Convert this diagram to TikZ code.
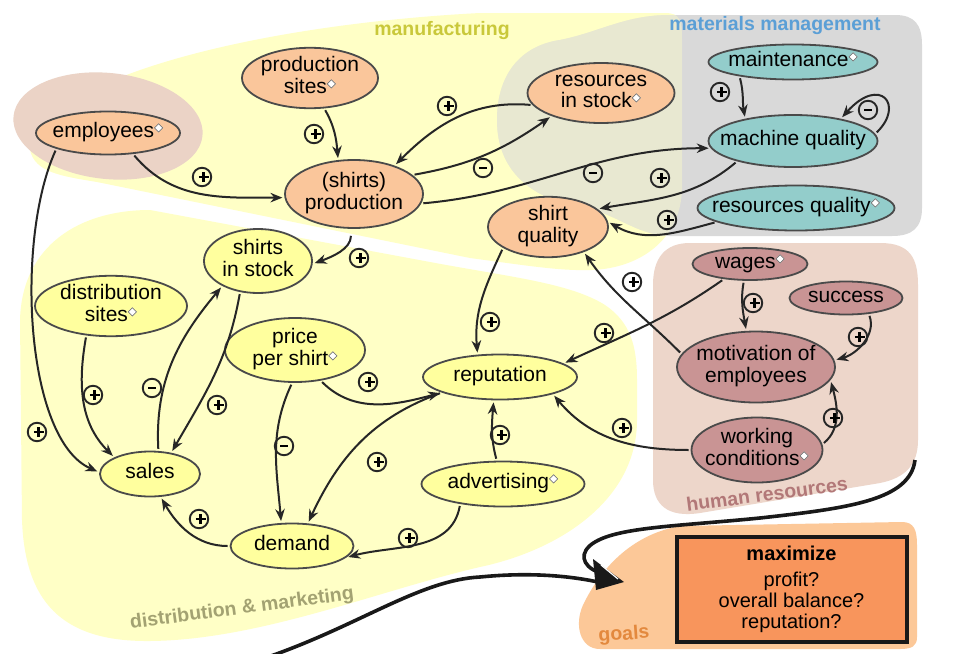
\documentclass[tikz,border=0pt]{standalone}
\usepackage{fontspec}
\setmainfont{Liberation Sans}
\newfontfamily\dejavu{DejaVu Sans}
\usetikzlibrary{shapes.geometric,arrows.meta}
\definecolor{yel}{HTML}{FFFFC6}
\definecolor{blobc}{HTML}{EBD3C6}
\definecolor{grayr}{HTML}{D9D9D9}
\definecolor{hrc}{HTML}{EDD6CA}
\definecolor{goalr}{HTML}{FCC898}
\definecolor{goalbox}{HTML}{F8955C}
\definecolor{nor}{HTML}{FAC69B}
\definecolor{nte}{HTML}{93CDCB}
\definecolor{npk}{HTML}{C99494}
\definecolor{nye}{HTML}{FFFF9E}
\definecolor{edgec}{HTML}{4A4A4A}
\definecolor{lmanu}{HTML}{C9C83A}
\definecolor{lmat}{HTML}{5B9FD6}
\definecolor{ldist}{HTML}{A3A272}
\definecolor{lhr}{HTML}{B27878}
\definecolor{lgoal}{HTML}{E3893E}
\newcommand\dm{\raisebox{0.55ex}{\fontsize{12}{12}\selectfont\dejavu\rlap{\color{white}◆}{\color{edgec}◇}}}
\newcommand\nt[1]{\makebox[0pt]{\begin{tabular}{@{}c@{}}#1\end{tabular}}}
\newcommand\mn{\rule[-1.4pt]{7.5pt}{2.8pt}}
\newcommand\pl{\rlap{\rule[-1.35pt]{10pt}{2.7pt}}\hspace{3.65pt}\rule[-5pt]{2.7pt}{10pt}\hspace{3.65pt}}
\tikzset{
 nd/.style={ellipse, draw=edgec, line width=1.8pt, inner sep=0pt, font=\fontsize{21}{20.5}\selectfont},
 orn/.style={nd, fill=nor}, ten/.style={nd, fill=nte}, pkn/.style={nd, fill=npk}, yen/.style={nd, fill=nye},
 arr/.style={-{Stealth[length=12pt,width=9.5pt]}, line width=2pt, draw=black!85, shorten >=2pt, shorten <=2pt},
 sgn/.style={circle, draw=black!85, line width=1.9pt, inner sep=0pt, minimum size=18.5pt},
 rlab/.style={font=\bfseries\fontsize{19.5}{20}\selectfont},
 big/.style={line width=3.6pt, draw=black!90}
}
\begin{document}
\begin{tikzpicture}[x=1pt,y=-1pt]
\useasboundingbox (0,0) rectangle (955,653);
\fill[white] (0,0) rectangle (955,653);
% regions
\def\manupath{(30,150) .. controls (40,80) and (250,25) .. (480,13) -- (665,13) .. controls (680,13) and (682,20) .. (682,40) -- (682,190) .. controls (680,240) and (640,268) .. (592,270) .. controls (560,271) and (530,266) .. (470,258) -- (97,182) .. controls (60,176) and (35,172) .. cycle}
\def\graypath{(560,40) .. controls (600,32) and (625,15) .. (670,15) -- (895,15) .. controls (915,15) and (922,25) .. (922,45) -- (922,208) .. controls (922,228) and (912,236) .. (892,236) -- (670,236) .. controls (635,235) and (615,212) .. (580,207) .. controls (530,198) and (497,170) .. (497,120) .. controls (497,70) and (525,45) .. (560,40) -- cycle}
\fill[yel] \manupath;
\fill[yel] (20,320) .. controls (22,245) and (80,210) .. (150,210) -- (430,262) .. controls (510,277) and (570,283) .. (605,305) .. controls (630,322) and (637,345) .. (637,380) -- (637,420) .. controls (637,500) and (560,550) .. (480,567) .. controls (380,590) and (260,640) .. (150,641) .. controls (60,642) and (25,600) .. (22,520) -- cycle;
\fill[blobc, rotate around={-6:(108,126)}] (108,126) ellipse [x radius=95pt, y radius=53pt];
\fill[grayr] \graypath;
\begin{scope}
\clip \manupath;
\fill[yel, opacity=0.4] \graypath;
\end{scope}
\fill[hrc] (690,243) -- (880,243) .. controls (910,243) and (918,258) .. (918,285) -- (918,440) .. controls (918,465) and (905,478) .. (880,483) -- (700,513) .. controls (668,518) and (653,505) .. (653,480) -- (653,285) .. controls (653,258) and (665,243) .. (690,243) -- cycle;
\fill[goalr] (600,649) .. controls (580,649) and (574,625) .. (583,605) .. controls (600,570) and (630,535) .. (680,526) -- (902,522) .. controls (914,522) and (917,530) .. (917,545) -- (917,637) .. controls (917,646) and (912,649) .. (900,649) -- cycle;
% region labels
\node[rlab, text=lmanu] (lmanu) at (442,31) {manufacturing};
\node[rlab, text=lmat] (lmat) at (775,26) {materials management};
\node[rlab, text=ldist, rotate=7.5] (ldist) at (242,609) {distribution \& marketing};
\node[rlab, text=lhr, rotate=7.5] (lhr) at (767,494) {human resources};
\node[rlab, text=lgoal, rotate=4] (lgoal) at (624,635) {goals};
% goals box
\node[draw=black!90, line width=4pt, fill=goalbox, minimum width=230pt, minimum height=105pt, inner sep=0pt, align=center, font=\fontsize{20}{21}\selectfont] (gbox) at (791.5,589) {\textbf{maximize}\\[5pt]profit?\\overall balance?\\reputation?};
% big curves
\coordinate (hrend) at (915,460);
\coordinate (dmend) at (268,657);
\coordinate (g1) at (598,572);
\coordinate (g2) at (598,582);
\draw[big] (hrend) .. controls (910,500) and (850,508) .. (760,518) .. controls (680,526) and (620,527) .. (595,542) .. controls (578,552) and (582,566) .. (g1);
\draw[big] (dmend) .. controls (360,625) and (420,580) .. (480,577) .. controls (530,572) and (570,576) .. (g2);
\fill[black!90] (593,559) -- (624,582) -- (596,590) -- cycle;
\draw[white, line width=1.2pt] (601,565) -- (618,579);
% nodes
\node[orn, minimum width=144pt, minimum height=43pt] (employees) at (108,133) {\nt{employees\dm}};
\node[orn, minimum width=136pt, minimum height=60pt] (psites) at (310,78) {\nt{production\\sites\dm}};
\node[orn, minimum width=138pt, minimum height=68pt] (production) at (354,194) {\nt{(shirts)\\production}};
\node[orn, minimum width=147pt, minimum height=60pt] (rstock) at (601,93) {\nt{resources\\in stock\dm}};
\node[ten, minimum width=169pt, minimum height=35pt] (maint) at (793,62) {\nt{maintenance\dm}};
\node[ten, minimum width=169pt, minimum height=52pt] (mqual) at (793,141) {\nt{machine quality}};
\node[ten, minimum width=197pt, minimum height=45pt] (rqual) at (796,208) {\nt{resources quality\dm}};
\node[orn, minimum width=120pt, minimum height=60pt] (squal) at (548,227) {\nt{shirt\\quality}};
\node[pkn, minimum width=115pt, minimum height=32pt] (wages) at (750,264) {\nt{wages\dm}};
\node[pkn, minimum width=113pt, minimum height=33pt] (success) at (846,298) {\nt{success}};
\node[pkn, minimum width=158pt, minimum height=71pt] (motiv) at (756,367) {\nt{motivation of\\employees}};
\node[pkn, minimum width=131pt, minimum height=65pt] (workc) at (757,450) {\nt{working\\conditions\dm}};
\node[yen, minimum width=154pt, minimum height=45pt] (rep) at (500,377) {\nt{reputation}};
\node[yen, minimum width=163pt, minimum height=45pt] (adv) at (503,484) {\nt{advertising\dm}};
\node[yen, minimum width=140pt, minimum height=64pt] (price) at (295,350) {\nt{price\\per shirt\dm}};
\node[yen, minimum width=108pt, minimum height=64pt] (sis) at (258,261) {\nt{shirts\\in stock}};
\node[yen, minimum width=152pt, minimum height=60pt] (dsites) at (111,306) {\nt{distribution\\sites\dm}};
\node[yen, minimum width=100pt, minimum height=45pt] (sales) at (150,474) {\nt{sales}};
\node[yen, minimum width=123pt, minimum height=45pt] (demand) at (292,546) {\nt{demand}};
% connectors
\draw[arr] (employees.-40) to[out=-50,in=180] (production.183);
\draw[arr] (psites.-65) to[out=-60,in=95] (production.115);
\draw[arr] (rstock.190) to[out=175,in=45] (production.35);
\draw[arr] (production.18) to[out=10,in=215] (rstock.205);
\draw[arr] (production.-8) to[out=5,in=180] (mqual.185);
\draw[arr] (mqual.200) to[out=220,in=10] (squal.20);
\draw[arr] (rqual.190) to[out=195,in=-30] (squal.5);
\draw[arr] (maint.195) to[out=-75,in=100] (mqual.155);
\draw[arr] (mqual.5) .. controls (905,105) and (880,75) .. (mqual.25);
\draw[arr] (squal.205) to[out=-115,in=95] (rep.135);
\draw[arr] (motiv.170) to[out=135,in=-55] (squal.-35);
\draw[arr] (wages.-110) to[out=-100,in=100] (motiv.105);
\draw[arr] (wages.-150) to[out=-145,in=25] (rep.12);
\draw[arr] (success.-35) to[out=-70,in=15] (motiv.5);
\draw[arr] (workc.5) to[out=40,in=-75] (motiv.-10);
\draw[arr] (workc.180) to[out=180,in=-50] (rep.-18);
\draw[arr] (adv.105) to[out=105,in=-95] (rep.-105);
\draw[arr] (adv.-155) to[out=-100,in=15] (demand.-12);
\draw[arr] (rep.-165) to[out=200,in=65] (demand.55);
\draw[arr] (price.-95) to[out=-115,in=95] (demand.115);
\draw[arr] (price.-50) to[out=-45,in=195] (rep.195);
\draw[arr, shorten <=7pt] (production.-95) to[out=-90,in=20] (sis.-3);
\draw[arr] (sis.-120) to[out=-100,in=60] (sales.45);
\draw[arr] (sales.70) to[out=93,in=230] (sis.-145);
\draw[arr] (dsites.-130) to[out=-100,in=135] (sales.155);
\draw[arr] (employees.-163) .. controls (15,240) and (25,440) .. (sales.178);
\draw[arr] (demand.180) to[out=180,in=-60] (sales.-65);
% signs
\node[sgn] (s1) at (202,177) {\pl};
\node[sgn] (s2) at (314,134) {\pl};
\node[sgn] (s3) at (447,106) {\pl};
\node[sgn] (s4) at (483,168) {\mn};
\node[sgn] (s5) at (593,173) {\mn};
\node[sgn] (s6) at (660,178) {\pl};
\node[sgn] (s7) at (667,220) {\pl};
\node[sgn] (s8) at (720,92) {\pl};
\node[sgn] (s9) at (868,110) {\mn};
\node[sgn] (s10) at (359,258) {\pl};
\node[sgn] (s11) at (490,322) {\pl};
\node[sgn] (s12) at (632,282) {\pl};
\node[sgn] (s13) at (753,303) {\pl};
\node[sgn] (s14) at (604,333) {\pl};
\node[sgn] (s15) at (858,337) {\pl};
\node[sgn] (s16) at (833,418) {\pl};
\node[sgn] (s17) at (622,428) {\pl};
\node[sgn] (s18) at (500,435) {\pl};
\node[sgn] (s19) at (37,432) {\pl};
\node[sgn] (s20) at (93,395) {\pl};
\node[sgn] (s21) at (152,388) {\mn};
\node[sgn] (s22) at (217,405) {\pl};
\node[sgn] (s23) at (368,382) {\pl};
\node[sgn] (s24) at (284,446) {\mn};
\node[sgn] (s25) at (377,462) {\pl};
\node[sgn] (s26) at (199,519) {\pl};
\node[sgn] (s27) at (408,538) {\pl};
\end{tikzpicture}
\end{document}
